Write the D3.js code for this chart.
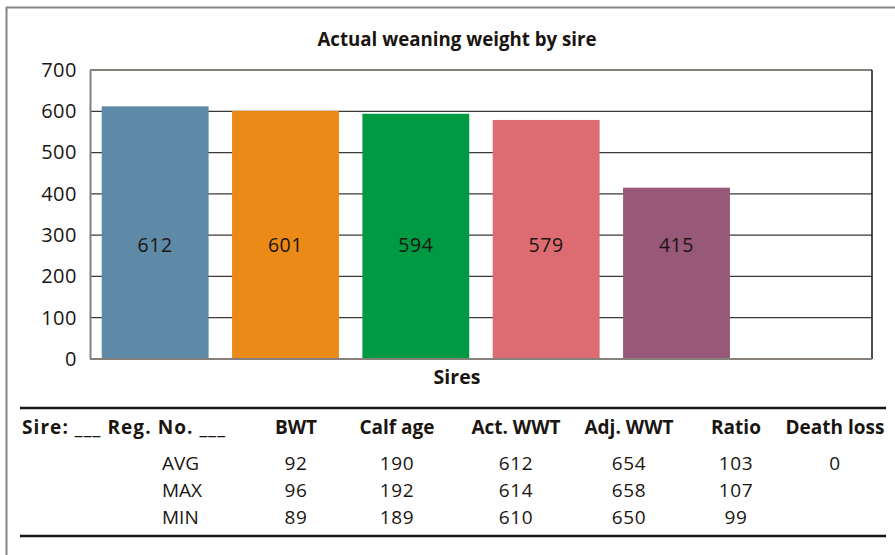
<!DOCTYPE html>
<html>
<head>
<meta charset="utf-8">
<script src="https://cdn.jsdelivr.net/npm/d3@7"></script>
<style>
  body { margin: 0; background: #fff; }
  text { font-family: "Open Sans", "Noto Sans", sans-serif; fill: #1a1510; }
</style>
</head>
<body>
<div id="chart"></div>
<script>
// chart data
const sires = ["1", "2", "3", "4", "5", ""];
const weights = [612, 601, 594, 579, 415];
const barColors = ["#5e8aa8", "#ec8a17", "#009a44", "#dd6b72", "#985877"];
const yTicks = [0, 100, 200, 300, 400, 500, 600, 700];

// table data
const tableHeaders = ["BWT", "Calf age", "Act. WWT", "Adj. WWT", "Ratio", "Death loss"];
const rowLabels = ["AVG", "MAX", "MIN"];
const bwt = [92, 96, 89];
const calfAge = [190, 192, 189];
const actWwt = [612, 614, 610];
const adjWwt = [654, 658, 650];
const ratio = [103, 107, 99];
const deathLoss = [0, null, null];

const W = 895, H = 555;
const margin = { top: 70, right: 23, left: 90 };
const plotW = W - margin.left - margin.right;
const plotH = 289;

const svg = d3.select("#chart")
    .append("svg")
    .attr("width", W)
    .attr("height", H);

// outer frame (top + left only)
svg.append("line")
    .attr("x1", 6).attr("x2", W).attr("y1", 7.5).attr("y2", 7.5)
    .attr("stroke", "#8a8580").attr("stroke-width", 2);
svg.append("line")
    .attr("x1", 6.5).attr("x2", 6.5).attr("y1", 7).attr("y2", H)
    .attr("stroke", "#8a8580").attr("stroke-width", 2);

// title
svg.append("text")
    .attr("x", 457).attr("y", 46)
    .attr("text-anchor", "middle")
    .attr("font-size", "18.7px")
    .attr("font-weight", "bold")
    .text("Actual weaning weight by sire");

const g = svg.append("g")
    .attr("transform", `translate(${margin.left},${margin.top})`);

const x = d3.scaleBand()
    .domain(d3.range(sires.length))
    .range([0, plotW])
    .paddingInner(0.18)
    .paddingOuter(0.09);

const y = d3.scaleLinear()
    .domain([0, 700])
    .range([plotH, 0]);

// gridlines
g.selectAll(".grid")
    .data(yTicks.filter(d => d > 0 && d < 700))
    .enter().append("line")
    .attr("class", "grid")
    .attr("x1", 0).attr("x2", plotW)
    .attr("y1", d => y(d)).attr("y2", d => y(d))
    .attr("stroke", "#3c3834")
    .attr("stroke-width", 1.2);

// plot frame
g.append("line").attr("x1", 0).attr("x2", plotW).attr("y1", 0).attr("y2", 0)
    .attr("stroke", "#85807a").attr("stroke-width", 2);
g.append("line").attr("x1", plotW).attr("x2", plotW).attr("y1", 0).attr("y2", plotH)
    .attr("stroke", "#1a1510").attr("stroke-width", 1.5);

// bars
g.selectAll(".bar")
    .data(weights)
    .enter().append("rect")
    .attr("class", "bar")
    .attr("x", (d, i) => x(i))
    .attr("y", d => y(d))
    .attr("width", x.bandwidth())
    .attr("height", d => plotH - y(d))
    .attr("fill", (d, i) => barColors[i]);

// bar labels, all at the same level
const labelLevel = 275;
g.selectAll(".blabel")
    .data(weights)
    .enter().append("text")
    .attr("class", "blabel")
    .attr("x", (d, i) => x(i) + x.bandwidth() / 2)
    .attr("y", y(labelLevel))
    .attr("dy", "0.35em")
    .attr("text-anchor", "middle")
    .attr("font-size", "19.5px")
    .attr("letter-spacing", "0.6px")
    .text(d => d);

// axes
const yAxis = g.append("g")
    .call(d3.axisLeft(y).tickValues(yTicks).tickSize(0).tickPadding(13));
yAxis.select(".domain").attr("stroke", "#85807a").attr("stroke-width", 2);
yAxis.selectAll("text")
    .attr("font-size", "20px")
    .attr("letter-spacing", "0.5px")
    .attr("font-family", "'Open Sans', 'Noto Sans', sans-serif")
    .attr("fill", "#1a1510");

g.append("line").attr("x1", 0).attr("x2", plotW).attr("y1", plotH).attr("y2", plotH)
    .attr("stroke", "#85807a").attr("stroke-width", 2);

svg.append("text")
    .attr("x", 457).attr("y", 384)
    .attr("text-anchor", "middle")
    .attr("font-size", "19.5px")
    .attr("font-weight", "bold")
    .text("Sires");

// table
const colX = [296, 397, 516, 629, 736, 835];
const tableTop = 408, tableBottom = 536;
svg.append("line").attr("x1", 20).attr("x2", 886).attr("y1", tableTop).attr("y2", tableTop)
    .attr("stroke", "#1a1510").attr("stroke-width", 2.5);
svg.append("line").attr("x1", 20).attr("x2", 886).attr("y1", tableBottom).attr("y2", tableBottom)
    .attr("stroke", "#1a1510").attr("stroke-width", 2.5);

svg.append("text")
    .attr("x", 22).attr("y", 434)
    .attr("font-size", "19px")
    .attr("font-weight", "bold")
    .attr("textLength", 203)
    .attr("lengthAdjust", "spacing")
    .text("Sire: ___ Reg. No. ___");

svg.selectAll(".thead")
    .data(tableHeaders)
    .enter().append("text")
    .attr("class", "thead")
    .attr("x", (d, i) => colX[i])
    .attr("y", 434)
    .attr("text-anchor", "middle")
    .attr("font-size", "19px")
    .attr("font-weight", "bold")
    .text(d => d);

const columns = [bwt, calfAge, actWwt, adjWwt, ratio, deathLoss];
const rowY = [470, 497, 524];

svg.selectAll(".rlabel")
    .data(rowLabels)
    .enter().append("text")
    .attr("class", "rlabel")
    .attr("x", 162)
    .attr("y", (d, i) => rowY[i])
    .attr("font-size", "19px")
    .text(d => d);

columns.forEach((col, c) => {
    svg.selectAll(".cell" + c)
        .data(col.filter(v => v !== null))
        .enter().append("text")
        .attr("class", "cell" + c)
        .attr("x", colX[c])
        .attr("y", (d, i) => rowY[i])
        .attr("text-anchor", "middle")
        .attr("font-size", "19px")
        .attr("letter-spacing", "0.6px")
        .text(d => d);
});
</script>
</body>
</html>
